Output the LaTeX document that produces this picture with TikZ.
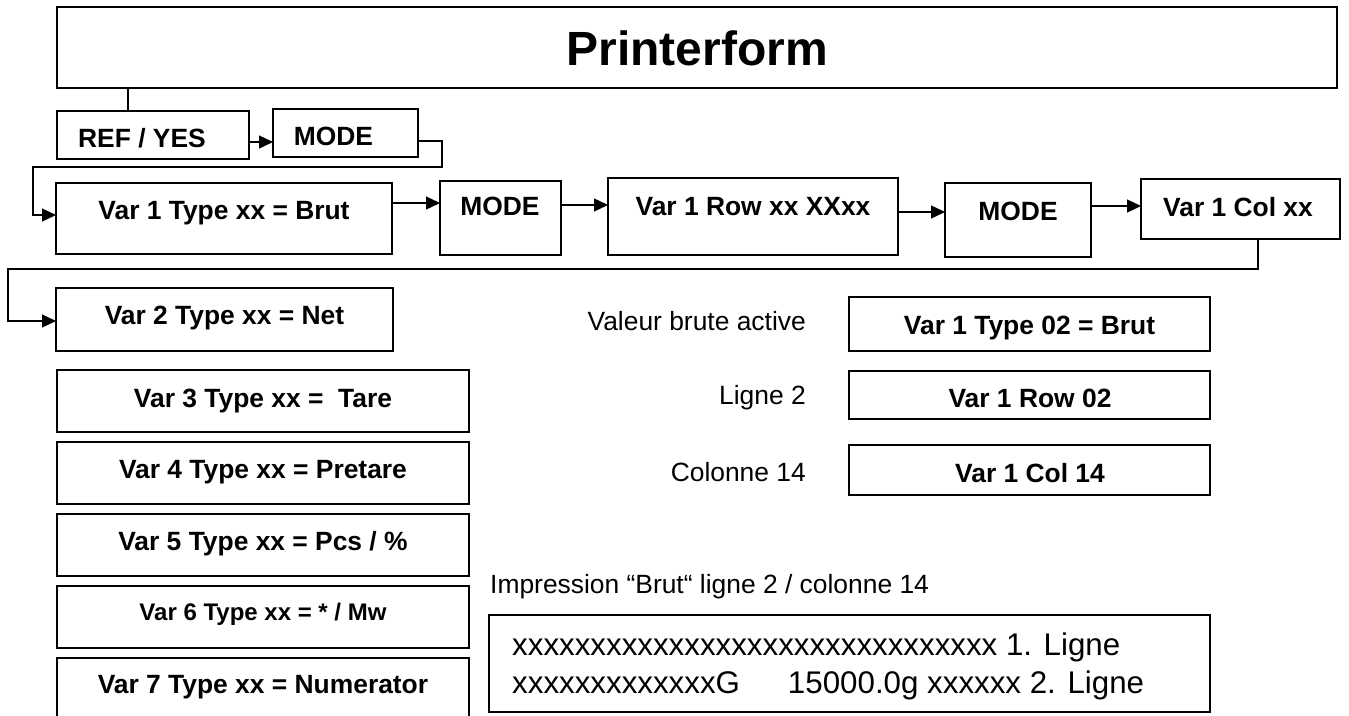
\documentclass[tikz,border=0pt]{standalone}
\usepackage{fontspec}
\setmainfont{Liberation Sans}
\usetikzlibrary{arrows.meta}
\newcommand\mybox[5]{\node[bx, minimum width={#4-#2}, minimum height={#5-#3}] (#1) at ({(#2+#4)/2},{(#3+#5)/2}) {};}
\tikzset{
  bx/.style={draw, line width=1.3pt, inner sep=0pt, outer sep=0pt, rectangle},
  ln/.style={line width=1.3pt},
  arr/.style={line width=1.3pt, -{Triangle[length=14pt,width=13pt]}},
  bt/.style={inner sep=0pt, anchor=base, font=\fontsize{26.4pt}{30pt}\selectfont\bfseries},
  rt/.style={inner sep=0pt, font=\fontsize{26.4pt}{30pt}\selectfont},
  ot/.style={inner sep=0pt, anchor=base west, font=\fontsize{31.3pt}{36pt}\selectfont},
}
\begin{document}
\begin{tikzpicture}[x=1pt,y=-1pt]
\useasboundingbox (0,0) rectangle (1349,715);
% boxes
\mybox{title}{57}{7}{1337}{88}
\mybox{ref}{57}{111}{249}{159}
\mybox{mode1}{273}{109}{418}{157}
\mybox{var1}{56}{183}{392}{254}
\mybox{mode2}{440}{181}{561}{255}
\mybox{row}{608}{178}{898}{255}
\mybox{mode3}{945}{183}{1091}{257}
\mybox{col}{1141}{179}{1340}{239}
\mybox{var2}{56}{288}{393}{351}
\mybox{var3}{57}{370}{469}{432}
\mybox{var4}{57}{442}{469}{504}
\mybox{var5}{57}{514}{469}{576}
\mybox{var6}{57}{586}{469}{648}
\begin{scope}
\clip (0,0) rectangle (1349,715);
\mybox{var7}{57}{658}{469}{735}
\end{scope}
\mybox{type02}{849}{297}{1210}{351}
\mybox{row02}{849}{371}{1210}{419}
\mybox{col14}{849}{445}{1210}{495}
\mybox{out}{489}{615}{1210}{712}
% texts
\node[bt, font=\fontsize{48pt}{54pt}\selectfont\bfseries] (ttitle) at (697,65) {Printerform};
\node[bt] (tref) at (142,147) {REF / YES};
\node[bt] (tmode1) at (333.5,145) {MODE};
\node[bt] (tvar1) at (224,219) {Var 1 Type xx = Brut};
\node[bt] (tmode2) at (500,215) {MODE};
\node[bt] (trow) at (753,215) {Var 1 Row xx XXxx};
\node[bt] (tmode3) at (1018,220) {MODE};
\node[bt] (tcol) at (1238,216) {Var 1 Col xx};
\node[bt] (tvar2) at (224.5,324) {Var 2 Type xx = Net};
\node[bt] (tvar3) at (263,407) {Var 3 Type xx =\ \ Tare};
\node[bt] (tvar4) at (263,478) {Var 4 Type xx = Pretare};
\node[bt] (tvar5) at (263,550) {Var 5 Type xx = Pcs / \%};
\node[bt, font=\fontsize{24pt}{28pt}\selectfont\bfseries] (tvar6) at (263,620) {Var 6 Type xx = * / Mw};
\node[bt] (tvar7) at (263,693) {Var 7 Type xx = Numerator};
\node[bt] (ttype02) at (1029.5,334) {Var 1 Type 02 = Brut};
\node[bt] (trow02) at (1030,407) {Var 1 Row 02};
\node[bt] (tcol14) at (1030,482) {Var 1 Col 14};
\node[rt, anchor=base east] (lval) at (806,330) {Valeur brute active};
\node[rt, anchor=base east] (llig) at (806,404) {Ligne 2};
\node[rt, anchor=base east] (lcol) at (806,481) {Colonne 14};
\node[rt, anchor=base west] (limp) at (490,593) {Impression “Brut“ ligne 2 / colonne 14};
\node[ot] (o1) at (512,655) {xxxxxxxxxxxxxxxxxxxxxxxxxxxxxxx 1. Ligne};
\node[ot] (o2) at (512,693) {xxxxxxxxxxxxxG\hspace{48pt}15000.0g xxxxxx 2. Ligne};
% connectors
\coordinate (t1) at (128,0);
\draw[ln] (title.south -| t1) -- (ref.north -| t1);
\coordinate (p0) at (0,142);
\draw[arr] (ref.east |- p0) -- (mode1.west |- p0);
\coordinate (p00) at (0,141);
\coordinate (k1) at (442,167);
\coordinate (k2) at (33,215);
\draw[arr] (mode1.east |- p00) -| (k1) -- (k1 -| k2) -- (k2) -- (k2 -| var1.west);
\coordinate (p1) at (0,203);
\draw[arr] (var1.east |- p1) -- (mode2.west |- p1);
\coordinate (p2) at (0,205);
\draw[arr] (mode2.east |- p2) -- (row.west |- p2);
\coordinate (p3) at (0,212);
\draw[arr] (row.east |- p3) -- (mode3.west |- p3);
\coordinate (p4) at (0,206);
\draw[arr] (mode3.east |- p4) -- (col.west |- p4);
\coordinate (m1) at (1258,269);
\coordinate (m2) at (8,321);
\draw[arr] (col.south -| m1) -- (m1) -- (m1 -| m2) -- (m2) -- (m2 -| var2.west);
\end{tikzpicture}
\end{document}
